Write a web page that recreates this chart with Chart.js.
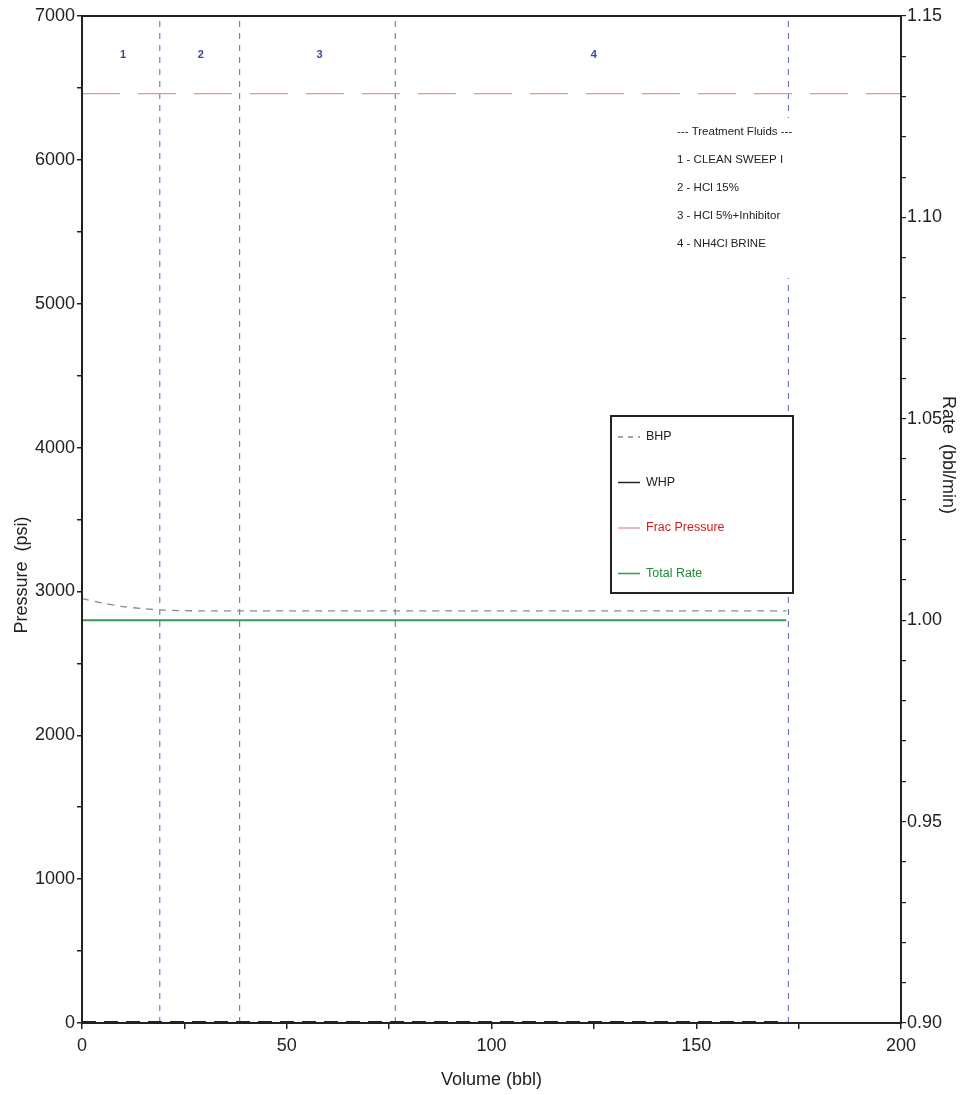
<!DOCTYPE html>
<html>
<head>
<meta charset="utf-8">
<title>Treatment plot</title>
<script src="https://cdn.jsdelivr.net/npm/chart.js@4"></script>
<style>
  html, body { margin: 0; padding: 0; background: #fff; }
  #wrap { width: 975px; height: 1095px; }
</style>
</head>
<body>
<div id="wrap"><canvas id="treatment-chart" width="975" height="1095"></canvas></div>
<script>
// Data
const bhpVolume = [0, 5, 10, 15, 20, 30, 60, 100, 140, 172];
const bhpPressure = [2950, 2920, 2895, 2880, 2870, 2865, 2865, 2865, 2865, 2865];
const whpVolume = [0, 172];
const whpPressure = [5, 5];
const fracVolume = [0, 200];
const fracPressure = [6460, 6460];
const rateVolume = [0, 172];
const totalRate = [1.00, 1.00];

const stageEnds = [19, 38.5, 76.5, 172.5];
const stageNames = ['1', '2', '3', '4'];
const stageNameAt = [10, 29, 58, 125];
const stageNameY = 6730;

const fluidLines = [
    '--- Treatment Fluids ---',
    '1 - CLEAN SWEEP I',
    '2 - HCl 15%',
    '3 - HCl 5%+Inhibitor',
    '4 - NH4Cl BRINE'
];

const pressureTicks = [0, 1000, 2000, 3000, 4000, 5000, 6000, 7000];
const rateTicks = [0.90, 0.95, 1.00, 1.05, 1.10, 1.15];
const volumeTicks = [0, 50, 100, 150, 200];

const FONT = '"Liberation Sans", Arial, sans-serif';
const STAGE_BLUE = '#5468b4';

function pts(xs, ys) {
    return xs.map((x, i) => ({ x: x, y: ys[i] }));
}

// stage boundary lines as two-point datasets
const stageSets = stageEnds.map(v => ({
    label: 'stage',
    data: pts([v, v], [0, 7000]),
    borderColor: STAGE_BLUE,
    borderWidth: 1,
    borderDash: [6, 6],
    pointRadius: 0,
    yAxisID: 'y',
    order: 5
}));

// extras: frame, stage numbers, fluids text, legend box, axis titles
const extras = {
    id: 'extras',
    afterDatasetsDraw(chart) {
        const ctx = chart.ctx;
        const a = chart.chartArea;
        const x = chart.scales.x, y = chart.scales.y;
        ctx.save();

        // stage numbers
        ctx.fillStyle = '#3448a0';
        ctx.font = 'bold 11px ' + FONT;
        ctx.textAlign = 'center';
        ctx.textBaseline = 'middle';
        stageNames.forEach((n, i) => {
            ctx.fillText(n, x.getPixelForValue(stageNameAt[i]), y.getPixelForValue(stageNameY));
        });

        // treatment fluids block
        ctx.fillStyle = '#fff';
        ctx.fillRect(672, 118, 130, 160);
        ctx.fillStyle = '#222';
        ctx.font = '11.5px ' + FONT;
        ctx.textAlign = 'left';
        fluidLines.forEach((t, i) => ctx.fillText(t, 677, 132 + i * 28));

        // legend box
        ctx.fillStyle = '#fff';
        ctx.fillRect(611, 416, 182, 177);
        ctx.strokeStyle = '#222';
        ctx.lineWidth = 2;
        ctx.strokeRect(611, 416, 182, 177);
        const items = [
            { t: 'BHP', c: '#888', tc: '#222', dash: [5, 5] },
            { t: 'WHP', c: '#222', tc: '#222', dash: [] },
            { t: 'Frac Pressure', c: '#e0a0aa', tc: '#d02020', dash: [] },
            { t: 'Total Rate', c: '#3a9a50', tc: '#1f8a3a', dash: [] }
        ];
        ctx.font = '12.5px ' + FONT;
        items.forEach((it, i) => {
            const ly = 437 + i * 45.5;
            ctx.beginPath();
            ctx.setLineDash(it.dash);
            ctx.strokeStyle = it.c;
            ctx.lineWidth = 1.5;
            ctx.moveTo(618, ly);
            ctx.lineTo(640, ly);
            ctx.stroke();
            ctx.setLineDash([]);
            ctx.fillStyle = it.tc;
            ctx.fillText(it.t, 646, ly);
        });

        // frame
        ctx.strokeStyle = '#222';
        ctx.lineWidth = 2;
        ctx.strokeRect(a.left, a.top, a.right - a.left, a.bottom - a.top);

        // axis titles
        ctx.fillStyle = '#222';
        ctx.font = '18px ' + FONT;
        ctx.textAlign = 'center';
        ctx.fillText('Volume (bbl)', x.getPixelForValue(100), 1080);
        ctx.save();
        ctx.translate(22, 575);
        ctx.rotate(-Math.PI / 2);
        ctx.fillText('Pressure  (psi)', 0, 0);
        ctx.restore();
        ctx.save();
        ctx.translate(948, 455);
        ctx.rotate(Math.PI / 2);
        ctx.fillText('Rate  (bbl/min)', 0, 0);
        ctx.restore();

        ctx.restore();
    }
};

const tickFont = { family: FONT, size: 18 };

new Chart(document.getElementById('treatment-chart').getContext('2d'), {
    type: 'line',
    data: {
        datasets: [
            {
                label: 'BHP',
                data: pts(bhpVolume, bhpPressure),
                borderColor: '#8a8a8a',
                borderWidth: 1.3,
                borderDash: [7, 6],
                pointRadius: 0,
                tension: 0.3,
                yAxisID: 'y'
            },
            {
                label: 'WHP',
                data: pts(whpVolume, whpPressure),
                borderColor: '#222',
                borderWidth: 2.5,
                borderDash: [14, 8],
                pointRadius: 0,
                yAxisID: 'y'
            },
            {
                label: 'Frac Pressure',
                data: pts(fracVolume, fracPressure),
                borderColor: '#d898a4',
                borderWidth: 1.3,
                borderDash: [38, 18],
                pointRadius: 0,
                yAxisID: 'y'
            },
            {
                label: 'Total Rate',
                data: pts(rateVolume, totalRate),
                borderColor: '#3a9a50',
                borderWidth: 2,
                pointRadius: 0,
                yAxisID: 'y1'
            }
        ].concat(stageSets)
    },
    options: {
        responsive: false,
        animation: false,
        layout: { padding: { top: 16, left: 0, right: 0, bottom: 0 } },
        plugins: { legend: { display: false }, tooltip: { enabled: false } },
        scales: {
            x: {
                type: 'linear',
                min: 0, max: 200,
                border: { display: false },
                grid: { drawOnChartArea: false, tickLength: 6, color: '#222', lineWidth: 1.5 },
                ticks: {
                    stepSize: 25,
                    font: tickFont, color: '#222', padding: 6,
                    callback: v => volumeTicks.includes(v) ? String(v) : ''
                },
                afterFit: s => { s.height = 1095 - 1023; }
            },
            y: {
                position: 'left',
                min: 0, max: 7000,
                border: { display: false },
                grid: { drawOnChartArea: false, tickLength: 5, color: '#222', lineWidth: 1.5 },
                ticks: {
                    stepSize: 500,
                    font: tickFont, color: '#222', padding: 2,
                    callback: v => pressureTicks.includes(v) ? String(v) : ''
                },
                afterFit: s => { s.width = 82; }
            },
            y1: {
                position: 'right',
                min: 0.90, max: 1.15,
                border: { display: false },
                grid: { drawOnChartArea: false, tickLength: 5, color: '#222', lineWidth: 1.2 },
                ticks: {
                    stepSize: 0.01,
                    font: tickFont, color: '#222', padding: 1,
                    callback: v => {
                        const r = Math.round(v * 100) / 100;
                        return rateTicks.some(t => Math.abs(t - r) < 1e-6) ? r.toFixed(2) : '';
                    }
                },
                afterFit: s => { s.width = 975 - 901; }
            }
        }
    },
    plugins: [extras]
});
</script>
</body>
</html>
